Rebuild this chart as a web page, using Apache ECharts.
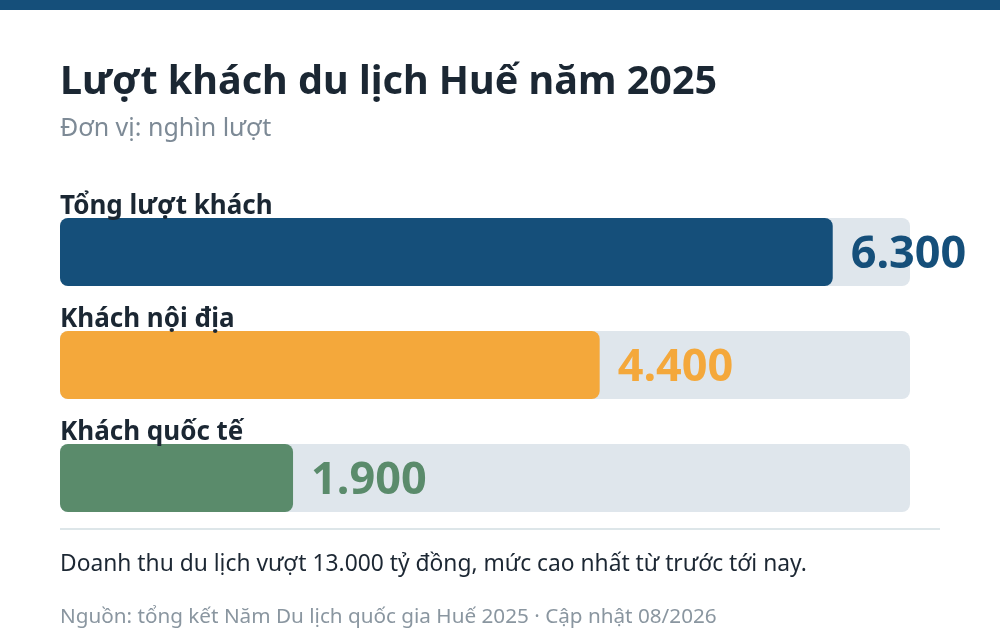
<!DOCTYPE html>
<html>
<head>
<meta charset="utf-8">
<script src="https://cdn.jsdelivr.net/npm/echarts@6/dist/echarts.min.js"></script>
<style>
  html, body { margin: 0; padding: 0; background: #ffffff; }
  #chart { width: 1000px; height: 640px; }
</style>
</head>
<body>
<div id="chart"></div>
<script>
// du lieu
const categories = ['Tổng lượt khách', 'Khách nội địa', 'Khách quốc tế'];
const values = [6300, 4400, 1900];
const colors = ['#154f7a', '#f4a83b', '#5a8b6b'];
const axisMax = 6930;

const fontFamily = '"Noto Sans", sans-serif';
const chart = echarts.init(document.getElementById('chart'));

function fmt(v) {
  return String(v).replace(/\B(?=(\d{3})+(?!\d))/g, '.');
}

const option = {
  backgroundColor: '#ffffff',
  animation: false,
  title: [
    {
      text: 'Lượt khách du lịch Huế năm 2025',
      left: 60, top: 63, padding: 0,
      textStyle: { fontFamily: fontFamily, fontSize: 39.5, fontWeight: 'bold', color: '#1b2733' }
    },
    {
      text: 'Đơn vị: nghìn lượt',
      left: 60, top: 116, padding: 0,
      textStyle: { fontFamily: fontFamily, fontSize: 25, fontWeight: 'normal', color: '#7d8a96' }
    },
    {
      text: 'Doanh thu du lịch vượt 13.000 tỷ đồng, mức cao nhất từ trước tới nay.',
      left: 60, top: 553, padding: 0,
      textStyle: { fontFamily: fontFamily, fontSize: 22.8, fontWeight: 'normal', color: '#1c2733' }
    },
    {
      text: 'Nguồn: tổng kết Năm Du lịch quốc gia Huế 2025 · Cập nhật 08/2026',
      left: 60, top: 607, padding: 0,
      textStyle: { fontFamily: fontFamily, fontSize: 20.7, fontWeight: 'normal', color: '#8a96a0' }
    }
  ],
  graphic: [
    { type: 'rect', left: 0, top: 0, shape: { width: 1000, height: 10 }, style: { fill: '#154f7a' } },
    { type: 'rect', left: 60, top: 528, shape: { width: 880, height: 2 }, style: { fill: '#dde6e9' } }
  ],
  grid: { left: 60, right: 90, top: 195.5, bottom: 105.5 },
  xAxis: {
    type: 'value', min: 0, max: axisMax,
    show: false
  },
  yAxis: {
    type: 'category', data: categories, inverse: true,
    axisLine: { show: false }, axisTick: { show: false }, axisLabel: { show: false }
  },
  series: [
    {
      type: 'bar',
      barWidth: 68,
      data: values.map(function (v, i) {
        return {
          value: v,
          itemStyle: { color: colors[i] },
          label: { color: colors[i] }
        };
      }),
      itemStyle: { borderRadius: 8 },
      showBackground: true,
      backgroundStyle: { color: '#dfe6ec', borderRadius: 8 },
      label: {
        show: true, position: 'right', distance: 18, offset: [0, 3],
        fontFamily: fontFamily, fontSize: 45, fontWeight: 'bold',
        formatter: function (p) { return fmt(p.value); }
      },
      z: 3
    },
    {
      // ten hang muc phia tren thanh
      type: 'bar',
      barWidth: 68,
      barGap: '-100%',
      data: values.map(function () { return axisMax; }),
      itemStyle: { color: 'rgba(0,0,0,0)' },
      label: {
        show: true, position: [0, 2], align: 'left', verticalAlign: 'bottom',
        fontFamily: fontFamily, fontSize: 26, fontWeight: 'bold', color: '#1b2733',
        formatter: function (p) { return categories[p.dataIndex]; }
      },
      silent: true,
      z: 4
    }
  ]
};

chart.setOption(option);
</script>
</body>
</html>
